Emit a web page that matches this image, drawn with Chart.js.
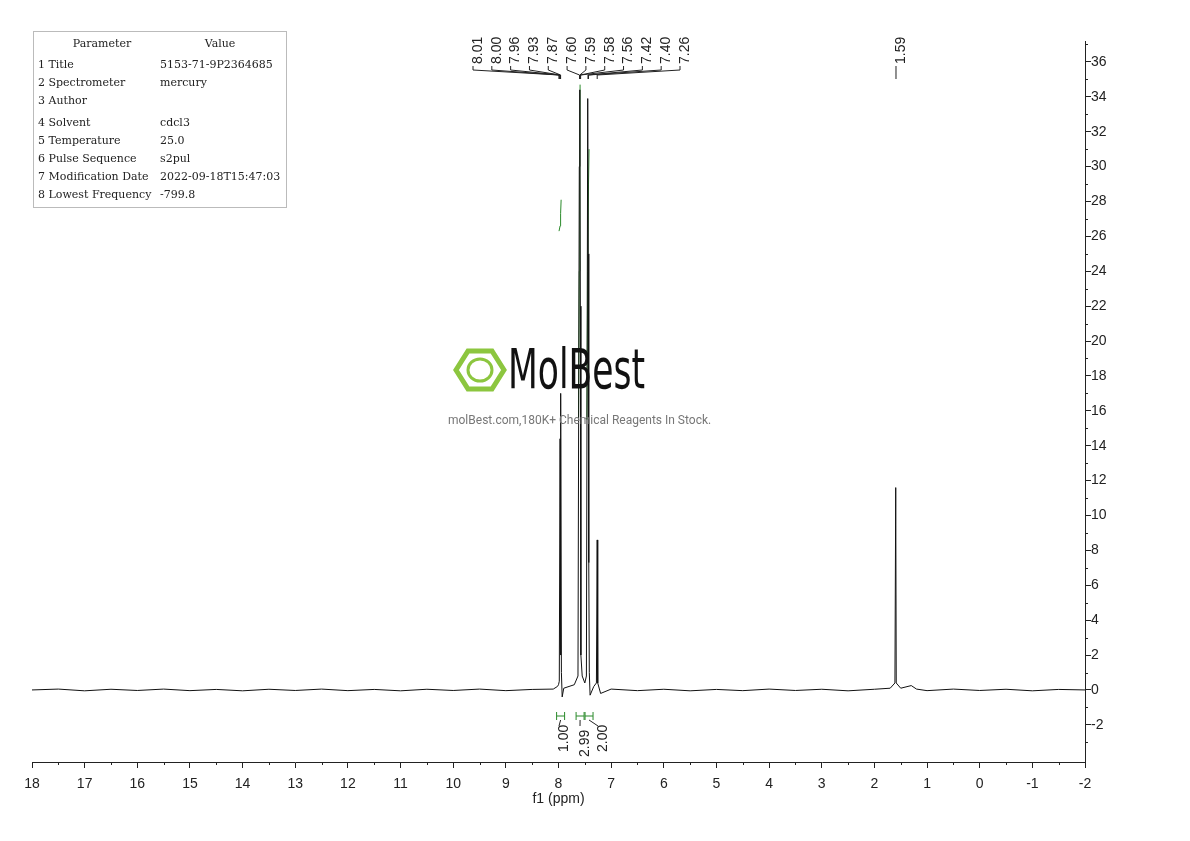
<!DOCTYPE html>
<html><head><meta charset="utf-8">
<script src="https://cdn.jsdelivr.net/npm/chart.js@4/dist/chart.umd.min.js"></script>
<style>body{margin:0;background:#fff}#w{position:relative;width:1190px;height:841px}</style>
</head><body><div id="w"><canvas id="c" width="1190" height="841"></canvas></div>
<script>
// spectrum points [ppm, intensity]
const spectrum = [
  [18,0],[17.5,0.05],[17,-0.05],[16.5,0.04],[16,-0.03],[15.5,0.05],[15,-0.04],[14.5,0.03],[14,-0.05],
  [13.5,0.04],[13,-0.03],[12.5,0.05],[12,-0.04],[11.5,0.03],[11,-0.05],[10.5,0.04],[10,-0.03],
  [9.5,0.05],[9,-0.04],[8.5,0.03],[8.1,0.05],[8.02,0.2],[8.00,0.3],[7.985,0.5],
  [7.97,14.4],[7.962,2],[7.955,17.0],[7.945,1.0],[7.93,-0.4],[7.9,0.1],[7.8,0.2],[7.7,0.3],[7.63,0.8],
  [7.605,30],[7.595,34.4],[7.585,22],[7.575,2],[7.55,0.8],[7.5,0.4],[7.47,0.8],
  [7.445,33.9],[7.435,25],[7.425,7.3],[7.415,1],[7.4,-0.3],[7.33,0.2],[7.28,0.4],[7.265,8.6],[7.255,0.4],
  [7.2,-0.2],[7,0.05],[6.5,-0.04],[6,0.04],[5.5,-0.05],[5,0.03],[4.5,-0.04],[4,0.05],[3.5,-0.03],
  [3,0.04],[2.5,-0.05],[2,0.04],[1.7,0.1],[1.61,0.4],[1.595,11.6],[1.585,0.4],[1.5,0.1],[1.3,0.25],[1.2,0.05],
  [1,-0.04],[0.5,0.05],[0,-0.03],[-0.5,0.04],[-1,-0.05],[-1.5,0.03],[-2,0]
];
const integral1 = [[7.99,26.3],[7.97,26.6],[7.96,27.3],[7.95,28.1]];
const integral2 = [[7.62,15.5],[7.605,24],[7.595,30],[7.59,34.7]];
const integral3 = [[7.46,15.5],[7.445,24],[7.43,29],[7.42,31]];
const peakLabels = ['8.01','8.00','7.96','7.93','7.87','7.60','7.59','7.58','7.56','7.42','7.40','7.26'];
const peakPos = [7.99,7.985,7.97,7.965,7.96,7.60,7.595,7.585,7.58,7.44,7.43,7.265];
const integrals = [['1.00',7.96],['2.99',7.59],['2.00',7.42]];
const params = [['Parameter','Value'],['1 Title','5153-71-9P2364685'],['2 Spectrometer','mercury'],['3 Author',''],
  ['4 Solvent','cdcl3'],['5 Temperature','25.0'],['6 Pulse Sequence','s2pul'],['7 Modification Date','2022-09-18T15:47:03'],['8 Lowest Frequency','-799.8']];

const pts = a => a.map(p => ({x:p[0], y:p[1]}));
const extras = {
  id:'extras',
  afterDraw(ch){
    const c = ch.ctx, xs = ch.scales.x, ys = ch.scales.y, a = ch.chartArea;
    c.save();
    // minor ticks
    c.strokeStyle='#222'; c.lineWidth=1; c.beginPath();
    for(let v=-2;v<18;v+=0.5){ if(Math.abs(v%1)>0.1){const X=Math.round(xs.getPixelForValue(v))+0.5; c.moveTo(X,a.bottom); c.lineTo(X,a.bottom+3);} }
    for(let v=-4;v<=37;v+=1){ if(Math.abs(v%2)>0.1){const Y=Math.round(ys.getPixelForValue(v))+0.5; c.moveTo(a.right,Y); c.lineTo(a.right+3,Y);} }
    c.stroke();
    // axis title
    c.fillStyle='#222'; c.font='14px "Liberation Sans", Arial, sans-serif'; c.textAlign='center'; c.textBaseline='middle';
    c.fillText('f1 (ppm)',(a.left+a.right)/2,799);
    // parameter table
    c.strokeStyle='#bbb'; c.lineWidth=1; c.strokeRect(33.5,31.5,253,176);
    c.font='11px "DejaVu Serif", serif'; c.fillStyle='#222';
    const rowsY=[44,65,83,101,123,141,159,177,195];
    params.forEach((r,i)=>{
      if(i===0){c.textAlign='center';c.fillText(r[0],102,rowsY[i]);c.fillText(r[1],220,rowsY[i]);}
      else{c.textAlign='left';c.fillText(r[0],38,rowsY[i]);c.fillText(r[1],160,rowsY[i]);}
    });
    // watermark
    c.textAlign='left'; c.fillStyle='#111';
    c.save(); c.translate(508,374); c.scale(0.8,1.15); c.font='48px "DejaVu Sans Condensed", sans-serif';
    c.fillText('MolBest',0,0); c.restore();
    c.strokeStyle='#8cc63f'; c.lineWidth=5;
    c.beginPath();
    for(let k=0;k<6;k++){const t=Math.PI/3*k; const X=480+24*Math.cos(t), Y=370+22*Math.sin(t); k?c.lineTo(X,Y):c.moveTo(X,Y);}
    c.closePath(); c.stroke();
    c.beginPath(); c.ellipse(480,370,12,11,0,0,7); c.lineWidth=3; c.stroke();
    c.font='12px Roboto, sans-serif'; c.fillStyle='#777';
    c.fillText('molBest.com,180K+ Chemical Reagents In Stock.',448,421);
    // peak labels
    c.strokeStyle='#222'; c.lineWidth=1; c.fillStyle='#222'; c.font='14px "Liberation Sans", Arial, sans-serif';
    const n=peakLabels.length, x0=473, x1=680;
    peakLabels.forEach((t,i)=>{
      const lx=x0+(x1-x0)*i/(n-1), px=xs.getPixelForValue(peakPos[i]);
      c.save(); c.translate(lx+5,64); c.rotate(-Math.PI/2); c.textAlign='left'; c.fillText(t,0,0); c.restore();
      c.beginPath(); c.moveTo(lx,66); c.lineTo(lx,70); c.lineTo(px,75); c.lineTo(px,79); c.stroke();
    });
    const p1=xs.getPixelForValue(1.59);
    c.save(); c.translate(p1+5,64); c.rotate(-Math.PI/2); c.fillText('1.59',0,0); c.restore();
    c.beginPath(); c.moveTo(p1,66); c.lineTo(p1,79); c.stroke();
    // integrals
    integrals.forEach((r,i)=>{
      const px=xs.getPixelForValue(r[1]);
      c.strokeStyle='#2a8a2a';
      c.beginPath(); c.moveTo(px-4,716); c.lineTo(px+4,716); c.moveTo(px-4,712); c.lineTo(px-4,720); c.moveTo(px+4,712); c.lineTo(px+4,720); c.stroke();
      const lx=[559,580,598][i];
      c.strokeStyle='#222'; c.beginPath(); c.moveTo(px,720); c.lineTo(lx,726); c.stroke();
      c.save(); c.translate(lx+5,[752,757,752][i]); c.rotate(-Math.PI/2); c.fillStyle='#222'; c.fillText(r[0],0,0); c.restore();
    });
    c.restore();
  }
};
new Chart(document.getElementById('c'),{
  type:'line',
  data:{datasets:[
    {data:pts(spectrum),borderColor:'#111',borderWidth:1,pointRadius:0,tension:0},
    {data:pts(integral1),borderColor:'#2a8a2a',borderWidth:1,pointRadius:0},
    {data:pts(integral2),borderColor:'#2a8a2a',borderWidth:1,pointRadius:0},
    {data:pts(integral3),borderColor:'#2a8a2a',borderWidth:1,pointRadius:0}
  ]},
  options:{
    responsive:false,animation:false,
    layout:{padding:{left:32,right:69,top:41,bottom:49}},
    plugins:{legend:{display:false},tooltip:{enabled:false}},
    scales:{
      x:{type:'linear',min:-2,max:18,reverse:true,
        grid:{display:true,drawOnChartArea:false,tickLength:6,color:'#222'},border:{color:'#222'},
        ticks:{stepSize:1,color:'#222',font:{size:14},maxRotation:0,autoSkip:false,padding:8},
        afterFit(ax){ax.height=30;}},
      y:{position:'right',min:-4.13,max:37.2,
        grid:{display:true,drawOnChartArea:false,tickLength:6,color:'#222'},border:{color:'#222'},
        afterBuildTicks(ax){ax.ticks=[];for(let v=-2;v<=36;v+=2)ax.ticks.push({value:v});},
        afterFit(ax){ax.width=36;},
        ticks:{color:'#222',font:{size:14},padding:0}}
    }
  },
  plugins:[extras]
});
</script></body></html>
